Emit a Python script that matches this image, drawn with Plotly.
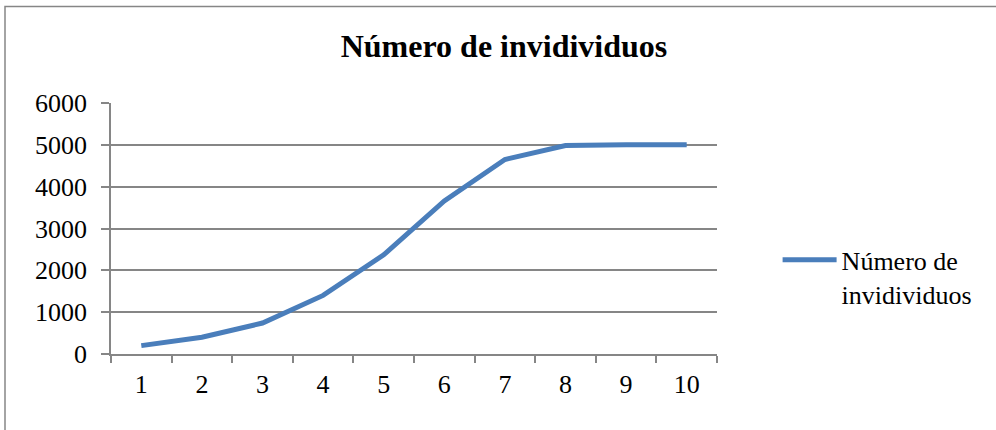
import plotly.graph_objects as go

# Population size per time step
steps = ["1", "2", "3", "4", "5", "6", "7", "8", "9", "10"]
individuos = [200, 400, 740, 1400, 2370, 3660, 4650, 4985, 5000, 5000]
y_ticks = [0, 1000, 2000, 3000, 4000, 5000, 6000]

series_name = "Número de invidividuos"
title_text = "Número de invidividuos"

GRAY = "#868686"
BLUE = "#4a7ebb"
FONT = "Liberation Serif, Times New Roman, serif"

fig = go.Figure()
fig.add_trace(go.Scatter(
    x=steps,
    y=individuos,
    mode="lines",
    name="Número de<br>invidividuos",
    line=dict(color=BLUE, width=5),
))

fig.update_layout(
    width=996,
    height=430,
    margin=dict(l=111, r=279, t=103, b=76),
    paper_bgcolor="white",
    plot_bgcolor="white",
    font=dict(family=FONT, size=26, color="black"),
    title=dict(
        text="<b>" + title_text + "</b>",
        font=dict(family=FONT, size=32, color="black"),
        x=504 / 996,
        xanchor="center",
        xref="container",
        y=1 - 46 / 430,
        yanchor="middle",
        yref="container",
    ),
    showlegend=True,
    legend=dict(
        x=1.10,
        y=0.307,
        xanchor="left",
        yanchor="middle",
        valign="top",
        itemwidth=54,
        bgcolor="rgba(0,0,0,0)",
        font=dict(family=FONT, size=26, color="black"),
    ),
)

fig.update_xaxes(
    type="category",
    range=[-0.5, len(steps) - 0.5],
    tickson="boundaries",
    ticks="outside",
    ticklen=7,
    tickwidth=1.5,
    tickcolor=GRAY,
    showline=True,
    linecolor=GRAY,
    linewidth=1.5,
    showgrid=False,
    zeroline=False,
    ticklabelstandoff=6,
)

fig.update_yaxes(
    range=[0, 6000],
    tickvals=y_ticks,
    ticktext=[str(v) for v in y_ticks],
    ticks="outside",
    ticklen=8,
    tickwidth=1.5,
    tickcolor=GRAY,
    showline=True,
    linecolor=GRAY,
    linewidth=1.5,
    showgrid=True,
    gridcolor=GRAY,
    gridwidth=1.5,
    zeroline=False,
    ticklabelstandoff=9,
)

# Chart frame (its right and bottom edges run off the page)
fig.add_shape(
    type="rect",
    xref="paper", yref="paper",
    x0=(5 - 111) / 606, x1=2.0,
    y0=-1.0, y1=(354.3 - 6) / 251.6,
    line=dict(color=GRAY, width=1.5),
    fillcolor="rgba(0,0,0,0)",
    layer="below",
)

fig.write_html("out.html")
